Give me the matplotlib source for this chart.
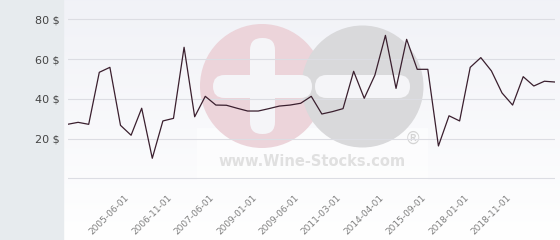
import numpy as np
import matplotlib
matplotlib.use('Agg')
import matplotlib.pyplot as plt
from matplotlib.patches import Circle, FancyBboxPatch, Rectangle

# price series, one value per observation
prices = [27.2, 28.2, 27.2, 53.4, 55.9, 26.7, 21.7, 35.3, 10.1, 28.9, 30.2, 66.0,
          31.0, 41.3, 36.9, 36.8, 35.3, 33.9, 33.9, 35.1, 36.4, 36.9, 37.8, 41.3,
          32.4, 33.6, 35.1, 53.9, 40.3, 51.9, 72.0, 45.3, 70.0, 54.9, 54.9, 16.3,
          31.5, 28.9, 55.9, 60.8, 54.1, 43.0, 36.9, 51.2, 46.5, 48.9, 48.5]
tick_pos = [6, 10, 14, 18, 22, 26, 30, 34, 38, 42]
tick_labels = ['2005-06-01', '2006-11-01', '2007-06-01', '2009-01-01', '2009-06-01',
               '2011-03-01', '2014-04-01', '2015-09-01', '2018-01-01', '2018-11-01']
y_ticks = [0, 20, 40, 60, 80]
y_labels = ['', '20 $', '40 $', '60 $', '80 $']

W, H = 560, 240
fig = plt.figure(figsize=(W / 100, H / 100), dpi=100)

# background layer in pixel coordinates
bg = fig.add_axes([0, 0, 1, 1])
bg.set_xlim(0, W)
bg.set_ylim(H, 0)
bg.axis('off')
grad = np.linspace(0, 1, 256).reshape(-1, 1)
top = np.array([0.945, 0.949, 0.969])
bot = np.array([1.0, 1.0, 1.0])
img = top + (bot - top) * grad[..., None]
bg.imshow(img, extent=(63, W, H, 0), aspect='auto', zorder=0)
bg.add_patch(Rectangle((0, 0), 63, H, color='#e7ebee', zorder=1))

# watermark
bg.add_patch(Rectangle((197, 128), 231, 52, color='white', alpha=0.55, zorder=1, lw=0))
bg.add_patch(Circle((262, 86), 62, color='#ecd4da', zorder=2, lw=0))
bg.add_patch(Circle((362.5, 86.5), 61, color='#d9d9db', zorder=3, lw=0))
bar_c = '#f5f5f8'
bg.add_patch(FancyBboxPatch((250, 38), 25, 96, boxstyle='round,pad=0,rounding_size=12',
                            color=bar_c, zorder=4, lw=0))
bg.add_patch(FancyBboxPatch((213, 75), 99, 23, boxstyle='round,pad=0,rounding_size=11.5',
                            color=bar_c, zorder=4, lw=0))
bg.add_patch(FancyBboxPatch((315, 75), 95, 23, boxstyle='round,pad=0,rounding_size=11.5',
                            color=bar_c, zorder=4, lw=0))
bg.text(312, 161, 'www.Wine-Stocks.com', ha='center', va='center', fontsize=10.5,
        fontweight='bold', color='#e0e0e0', zorder=5)
bg.text(413, 139, '\u00ae', ha='center', va='center', fontsize=12,
        color='#d4d4d4', zorder=5)

# main chart
ax = fig.add_axes([67.5 / W, (H - 182.3) / H, (555 - 67.5) / W, 178.7 / H])
ax.patch.set_alpha(0)
x = np.arange(len(prices))
ax.plot(x, prices, color='#3a1f2e', lw=0.9, zorder=3)
ax.set_xlim(0, len(prices) - 1)
ax.set_ylim(-2, 88)
for s in ax.spines.values():
    s.set_visible(False)
ax.set_yticks(y_ticks)
ax.set_yticklabels(y_labels, fontsize=8, color='#444444')
ax.set_xticks(tick_pos)
ax.set_xticklabels([])
for p, lbl in zip(tick_pos, tick_labels):
    ax.annotate(lbl, xy=(p, 0), xycoords=('data', 'axes fraction'),
                xytext=(-4.5, -7.5), textcoords='offset points',
                rotation=45, ha='right', va='top', rotation_mode='anchor',
                fontsize=6.5, color='#808080', annotation_clip=False)
ax.tick_params(axis='y', length=0, pad=6)
ax.tick_params(axis='x', length=0)
ax.grid(axis='y', color='#dcdde3', lw=0.8)
ax.grid(axis='x', visible=False)

fig.savefig('out.png', dpi=100)
